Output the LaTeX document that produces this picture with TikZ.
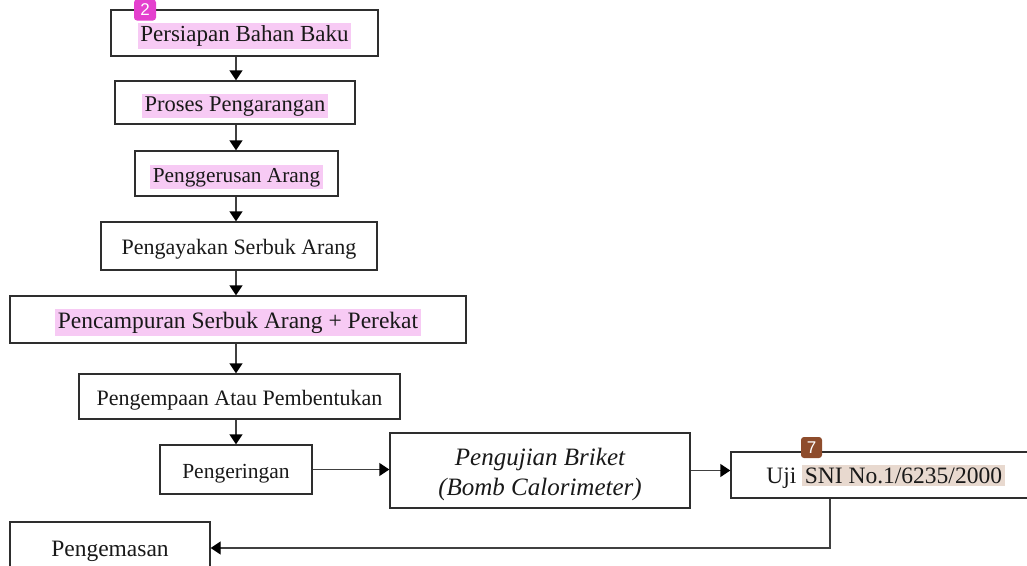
\documentclass[tikz,border=0pt]{standalone}
\usepackage{fontspec}
\setmainfont{Liberation Serif}
\setsansfont{Liberation Sans}
\usetikzlibrary{arrows.meta}
\definecolor{hlpink}{RGB}{247,202,244}
\definecolor{hltan}{RGB}{232,217,207}
\definecolor{badgepink}{RGB}{228,64,206}
\definecolor{badgebrown}{RGB}{142,76,44}
\newcommand\hlp[1]{{\setlength\fboxsep{2.5pt}\colorbox{hlpink}{#1}}}
\newcommand\hlt[1]{{\setlength\fboxsep{2.5pt}\colorbox{hltan}{#1}}}
\newcommand\fs[1]{\fontsize{#1}{1.25\dimexpr#1pt\relax}\selectfont}
\begin{document}
\begin{tikzpicture}[x=1pt,y=-1pt,
  box/.style={draw=black!82,line width=1.3pt,inner sep=0pt,align=center,text=black!90,
    text height=20pt,text depth=3pt},
  conn/.style={draw=black!75,line width=1.3pt,-{Triangle[length=10pt,width=13pt,fill=black,color=black]}},
  badge/.style={rounded corners=3pt,inner sep=0pt,minimum width=22pt,minimum height=21pt,text=white,font=\sffamily\fs{17}}]
\useasboundingbox (0,0) rectangle (1027,565);
\coordinate (ax) at (236,0);
\coordinate (sx) at (830,0);
\node[box,font=\fs{23},minimum width=267pt,minimum height=46pt] (b1) at (244.5,33) {\hlp{Persiapan Bahan Baku}};
\node[box,font=\fs{22.5},minimum width=240pt,minimum height=43pt] (b2) at (235,102.5) {\hlp{Proses Pengarangan}};
\node[box,font=\fs{21.3},minimum width=203pt,minimum height=45pt] (b3) at (236.5,173.5) {\hlp{Penggerusan Arang}};
\node[box,font=\fs{22},minimum width=276pt,minimum height=48pt] (b4) at (239,246) {Pengayakan Serbuk Arang};
\node[box,font=\fs{23.5},minimum width=456pt,minimum height=47pt] (b5) at (238,319.5) {\hlp{Pencampuran Serbuk Arang + Perekat}};
\node[box,font=\fs{22},minimum width=321pt,minimum height=45pt] (b6) at (239.5,396.5) {Pengempaan Atau Pembentukan};
\node[box,font=\fs{21.5},minimum width=152pt,minimum height=49pt] (b7) at (236,469.5) {Pengeringan};
\node[box,minimum width=300pt,minimum height=75pt] (b8) at (540,470.5) {};
\node[align=center,inner sep=0pt,text=black!90,font=\fs{25}\itshape] (b8t) at ([yshift=-4pt]b8.center) {Pengujian Briket\\[-2pt](Bomb Calorimeter)};
\node[box,font=\fs{23.5},minimum width=309pt,minimum height=46pt] (b9) at (885.5,475) {Uji \hlt{SNI No.1/6235/2000}};
\node[box,font=\fs{23.5},minimum width=200pt,minimum height=52pt] (b10) at (110,548) {Pengemasan};
\node[badge,fill=badgepink] (g2) at (145,10) {2};
\node[badge,fill=badgebrown,minimum width=21pt] (g7) at (811.5,447.5) {7};
\draw[conn] (b1.south -| ax) -- (b2.north -| ax);
\draw[conn] (b2.south -| ax) -- (b3.north -| ax);
\draw[conn] (b3.south -| ax) -- (b4.north -| ax);
\draw[conn] (b4.south -| ax) -- (b5.north -| ax);
\draw[conn] (b5.south -| ax) -- (b6.north -| ax);
\draw[conn] (b6.south -| ax) -- (b7.north -| ax);
\draw[conn] (b7.east) -- (b7.east -| b8.west);
\draw[conn] (b8.east) -- (b8.east -| b9.west);
\draw[conn] (b9.south -| sx) |- (b10.east);
\end{tikzpicture}
\end{document}
